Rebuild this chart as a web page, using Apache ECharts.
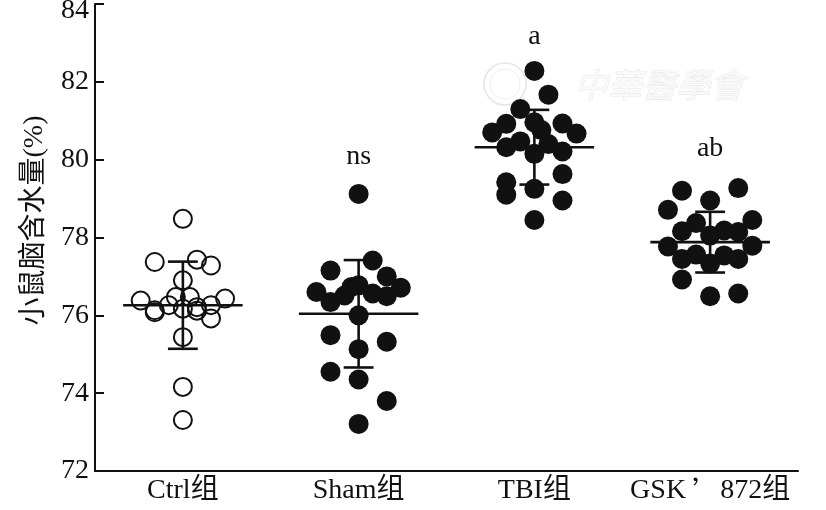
<!DOCTYPE html>
<html>
<head>
<meta charset="utf-8">
<script src="https://cdn.jsdelivr.net/npm/echarts@6/dist/echarts.min.js"></script>
<style>html,body{margin:0;padding:0;background:#fff}#c{width:826px;height:510px}</style>
</head>
<body>
<div id="c"></div>
<script>
// ---- data ----
var categories = ['Ctrl组', 'Sham组', 'TBI组', 'GSK’872组'];
var yTicks = [72, 74, 76, 78, 80, 82, 84];

var ctrlValues = [78.48, 77.37, 77.43, 77.28, 76.90, 76.38, 76.43, 76.13, 76.08, 76.26, 76.47, 76.47, 76.17, 76.21, 76.12, 76.26, 75.92, 75.44, 74.16, 73.31];
var ctrlJitter = [0, -2, 1, 2, 0, -3, 3, -2, -2, -1, -0.5, 0.5, 0, 1, 1, 2, 2, 0, 0, 0];

var shamValues = [79.12, 77.41, 77.15, 77.00, 76.60, 76.34, 76.51, 76.73, 76.77, 76.56, 76.49, 76.71, 76.00, 75.49, 75.32, 75.13, 74.55, 74.35, 73.80, 73.21];
var shamJitter = [0, 1, -2, 2, -3, -2, -1, -0.5, 0, 1, 2, 3, 0, -2, 2, 0, -2, 0, 2, 0];

var tbiValues = [82.28, 81.67, 81.30, 80.92, 80.70, 80.96, 80.76, 80.93, 80.67, 80.47, 80.32, 80.40, 80.15, 80.21, 79.63, 79.42, 79.10, 79.25, 78.95, 78.45];
var tbiJitter = [0, 1, -1, -2, -3, 0, 0.5, 2, 3, -1, -2, 1, 0, 2, 2, -2, -2, 0, 2, 0];

var gskValues = [79.20, 79.27, 78.95, 78.71, 78.45, 78.37, 78.16, 78.18, 78.14, 78.05, 77.77, 77.79, 77.45, 77.56, 77.54, 77.45, 77.33, 76.92, 76.49, 76.56];
var gskJitter = [-2, 2, 0, -3, 3, -1, -2, 1, 2, 0, -3, 3, -2, -1, 1, 2, 0, -2, 0, 2];

var groupMeans = [76.26, 76.04, 80.32, 77.88];
var groupSDs = [1.12, 1.38, 0.96, 0.78];

var sigLabels = ['', 'ns', 'a', 'ab'];
var sigLevels = [null, 79.72, 82.80, 79.93];

// ---- build ----
var JIT = 0.08; // category-width fraction per swarm slot
var INK = '#111111';
function pts(vals, jit, gi) {
  return vals.map(function (v, k) { return [gi + jit[k] * JIT, v]; });
}
var serifFont = '"Liberation Serif", "Times New Roman", serif';
var cjkFont = '"Liberation Serif", "Noto Sans CJK SC", serif';
var yMax = yTicks[yTicks.length - 1];

var chart = echarts.init(document.getElementById('c'), null, {renderer: 'canvas'});
chart.setOption({
  animation: false,
  backgroundColor: '#fff',
  grid: {left: 95, right: 28, top: 4, bottom: 39, containLabel: false, outerBoundsMode: 'none'},
  graphic: [{
    type: 'group', z: -10, silent: true,
    children: [
      {type: 'circle', shape: {cx: 505, cy: 84, r: 21}, style: {fill: 'none', stroke: '#e6e6e6', lineWidth: 1.5}},
      {type: 'circle', shape: {cx: 505, cy: 84, r: 15}, style: {fill: 'none', stroke: '#efefef', lineWidth: 1}},
      {type: 'text', x: 574, y: 68, style: {text: '中華醫學會', font: 'italic 34px "Noto Sans CJK SC"', fill: '#fafafa', stroke: '#dedede', lineWidth: 0.7}}
    ]
  }],
  xAxis: [{
    type: 'category',
    data: categories,
    boundaryGap: true,
    axisLine: {lineStyle: {color: INK, width: 2}},
    axisTick: {inside: true, length: 9, alignWithLabel: true, lineStyle: {color: INK, width: 2}},
    axisLabel: {
      interval: 0, color: INK, fontFamily: cjkFont, fontSize: 28, margin: 6,
      formatter: function (v) { return v.replace('’', '{q|’}'); },
      rich: {q: {fontFamily: '"Noto Sans CJK SC"', fontSize: 28, color: INK, padding: [0, 0, 0, 6]}}
    },
    splitLine: {show: false}
  }, {
    type: 'value', min: -0.5, max: 3.5, show: false
  }],
  yAxis: {
    type: 'value', min: yTicks[0], max: yMax, interval: 2,
    name: '小鼠脑含水量(%)',
    nameLocation: 'middle',
    nameGap: 46,
    nameTextStyle: {color: INK, fontFamily: cjkFont, fontSize: 28, padding: [0, 0, 0, 34]},
    axisLine: {show: true, onZero: false, lineStyle: {color: INK, width: 2}},
    axisTick: {show: true, inside: true, length: 9, lineStyle: {color: INK, width: 2}},
    axisLabel: {
      color: INK, fontFamily: serifFont, fontSize: 28, margin: 6,
      formatter: function (v) { return v === yMax ? '{top|' + v + '}' : String(v); },
      rich: {top: {fontFamily: serifFont, fontSize: 28, color: INK, padding: [13, 0, 0, 0]}}
    },
    splitLine: {show: false}
  },
  series: [
    {type: 'scatter', xAxisIndex: 1, symbolSize: 18, data: pts(ctrlValues, ctrlJitter, 0),
      itemStyle: {color: 'rgba(255,255,255,0)', borderColor: INK, borderWidth: 2, opacity: 1}, z: 3},
    {type: 'scatter', xAxisIndex: 1, symbolSize: 20, data: pts(shamValues, shamJitter, 1),
      itemStyle: {color: INK, opacity: 1}, z: 3},
    {type: 'scatter', xAxisIndex: 1, symbolSize: 20, data: pts(tbiValues, tbiJitter, 2),
      itemStyle: {color: INK, opacity: 1}, z: 3},
    {type: 'scatter', xAxisIndex: 1, symbolSize: 20, data: pts(gskValues, gskJitter, 3),
      itemStyle: {color: INK, opacity: 1}, z: 3},
    {
      type: 'custom', xAxisIndex: 1, z: 4,
      data: groupMeans.map(function (m, i) { return [i, m, groupSDs[i]]; }),
      renderItem: function (params, api) {
        var i = api.value(0), m = api.value(1), s = api.value(2);
        var c = api.coord([i, m]);
        var top = api.coord([i, m + s]);
        var bot = api.coord([i, m - s]);
        var w = api.size([1, 0])[0];
        var hm = w * 0.34, hc = w * 0.085;
        var st = {stroke: INK, lineWidth: 2.6};
        return {type: 'group', children: [
          {type: 'line', shape: {x1: c[0] - hm, y1: c[1], x2: c[0] + hm, y2: c[1]}, style: st},
          {type: 'line', shape: {x1: c[0], y1: top[1], x2: c[0], y2: bot[1]}, style: st},
          {type: 'line', shape: {x1: c[0] - hc, y1: top[1], x2: c[0] + hc, y2: top[1]}, style: st},
          {type: 'line', shape: {x1: c[0] - hc, y1: bot[1], x2: c[0] + hc, y2: bot[1]}, style: st}
        ]};
      }
    },
    {
      type: 'custom', xAxisIndex: 1, z: 5,
      data: sigLabels.map(function (t, i) { return [i, sigLevels[i] == null ? 80 : sigLevels[i], t]; }),
      renderItem: function (params, api) {
        var i = api.value(0);
        var p = api.coord([i, api.value(1)]);
        return {type: 'text', x: p[0], y: p[1], style: {
          text: sigLabels[i], fill: INK, font: '28px ' + serifFont,
          textAlign: 'center', textVerticalAlign: 'bottom'
        }};
      }
    }
  ]
});
</script>
</body>
</html>
